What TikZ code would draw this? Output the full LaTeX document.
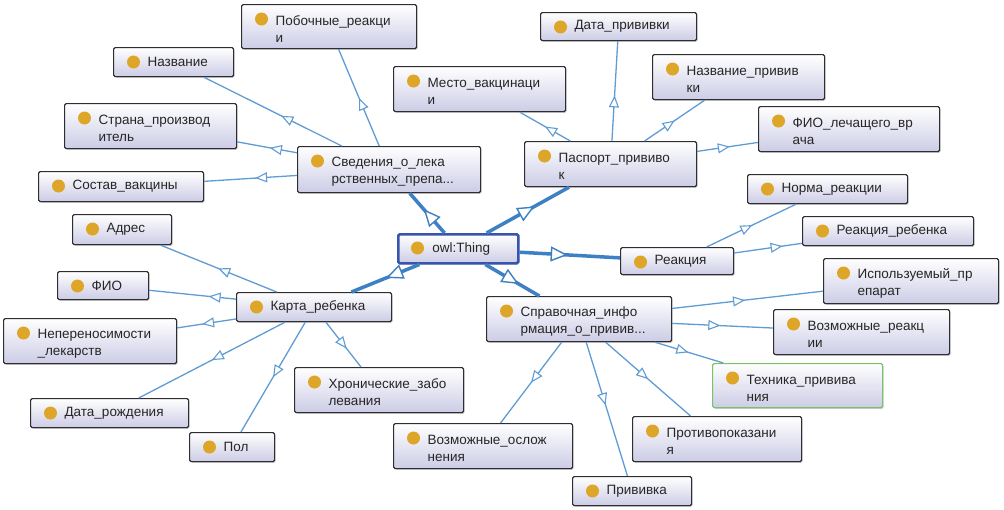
\documentclass[tikz,border=0pt]{standalone}
\usepackage{fontspec}
\setmainfont{Liberation Sans}
\usetikzlibrary{arrows.meta,decorations.markings,shadows}

\definecolor{edgec}{RGB}{96,156,212}
\definecolor{thickc}{RGB}{62,128,196}
\definecolor{dotc}{RGB}{222,166,40}
\definecolor{boxbot}{RGB}{204,204,230}
\definecolor{boxline}{RGB}{45,45,50}
\definecolor{owlc}{RGB}{55,85,170}
\definecolor{greenc}{RGB}{120,195,100}

\tikzset{
  box/.style={rectangle, draw=boxline, line width=1.2pt, rounded corners=1.5pt,
    top color=white, bottom color=boxbot, anchor=north west,
    inner xsep=0pt, inner ysep=0pt, align=left,
    font=\fontsize{13.5}{17}\selectfont, text=black!85,
    drop shadow={shadow xshift=1pt, shadow yshift=-1.2pt, fill=black!35, opacity=0.6}},
  thinedge/.style={draw=edgec, line width=1.3pt},
  thickedge/.style={draw=thickc, line width=3.5pt},
  thinmark/.style={postaction={decorate}, decoration={markings,
    mark=at position 0.5 with {\arrow[edgec, line width=1.1pt]{Triangle[length=12pt,width=10pt,fill=white]}}}},
  thickmark/.style={postaction={decorate}, decoration={markings,
    mark=at position 0.5 with {\arrow[thickc, line width=1.4pt]{Triangle[length=17pt,width=15pt,fill=white]}}}},
}

\newcommand\NL{\rule{0pt}{14pt}\\\hspace*{34pt}}
\newcommand\ontobox[7][]{%
  \node[box, #1, minimum width=#5pt, text width=#5pt, minimum height=#6pt] (#2) at (#3,#4) {\hspace*{34pt}#7};}
\newcommand\isathin[2]{\draw[thinedge] (#1) -- (#2); \path[thinmark] (#1.center) -- (#2.center);}
\newcommand\isathick[2]{\draw[thickedge] (#1) -- (#2); \path[thickmark] (#1.center) -- (#2.center);}

\begin{document}
\begin{tikzpicture}[x=1pt,y=-1pt]
\useasboundingbox[fill=white] (0,0) rectangle (1004,509);

\ontobox{pob}{241}{4}{175}{44}{Побочные\_реакци\NL и}
\ontobox{nazv}{113}{47}{120}{29}{Название}
\ontobox{mesto}{393}{66}{172}{45}{Место\_вакцинаци\NL и}
\ontobox{strana}{64}{103}{172}{45}{Страна\_производ\NL итель}
\ontobox{sved}{297}{146}{183}{46}{Сведения\_о\_лека\NL рственных\_препа...}
\ontobox{sostav}{38}{171}{165}{30}{Состав\_вакцины}
\ontobox{adres}{72}{214}{99}{30}{Адрес}
\ontobox[draw=owlc, line width=2.5pt]{owl}{397}{233}{120}{29}{owl:Thing}
\ontobox{datapriv}{540}{12}{156}{28}{Дата\_прививки}
\ontobox{nazvpriv}{652}{54}{172}{45}{Название\_привив\NL ки}
\ontobox{fiovr}{758}{106}{181}{45}{ФИО\_лечащего\_вр\NL ача}
\ontobox{pasp}{524}{141}{172}{45}{Паспорт\_прививо\NL к}
\ontobox{norma}{747}{174}{160}{29}{Норма\_реакции}
\ontobox{reakreb}{802}{216}{171}{29}{Реакция\_ребенка}
\ontobox{reak}{620}{247}{113}{27}{Реакция}
\ontobox{fio}{57}{271}{91}{28}{ФИО}
\ontobox{karta}{236}{292}{155}{29}{Карта\_ребенка}
\ontobox{neper}{3}{318}{173}{45}{Непереносимости\NL\_лекарств}
\ontobox{hron}{294}{367}{169}{45}{Хронические\_забо\NL левания}
\ontobox{datarozh}{30}{398}{158}{29}{Дата\_рождения}
\ontobox{pol}{189}{432}{85}{29}{Пол}
\ontobox{vozmosl}{393}{423}{179}{45}{Возможные\_ослож\NL нения}
\ontobox{ispol}{823}{258}{175}{45}{Используемый\_пр\NL епарат}
\ontobox{sprav}{486}{296}{185}{45}{Справочная\_инфо\NL рмация\_о\_привив...}
\ontobox{vozmreak}{773}{309}{176}{45}{Возможные\_реакц\NL ии}
\ontobox[draw=greenc]{tehn}{712}{363}{170}{44}{Техника\_привива\NL ния}
\ontobox{protiv}{632}{416}{169}{45}{Противопоказани\NL я}
\ontobox{priv}{572}{476}{119}{29}{Прививка}

\foreach \n in {pob,nazv,mesto,strana,sved,sostav,adres,owl,datapriv,nazvpriv,fiovr,pasp,norma,reakreb,reak,fio,karta,neper,hron,datarozh,pol,vozmosl,ispol,sprav,vozmreak,tehn,protiv,priv}
  \fill[dotc] ([xshift=20.5pt,yshift=-15pt]\n.north west) circle[radius=6.5pt];

\isathick{owl}{sved}
\isathick{owl}{pasp}
\isathick{owl}{karta}
\isathick{owl}{reak}
\isathick{owl}{sprav}

\isathin{sved}{pob}
\isathin{sved}{nazv}
\isathin{sved}{strana}
\isathin{sved}{sostav}

\isathin{pasp}{mesto}
\isathin{pasp}{datapriv}
\isathin{pasp}{nazvpriv}
\isathin{pasp}{fiovr}

\isathin{reak}{norma}
\isathin{reak}{reakreb}

\isathin{karta}{adres}
\isathin{karta}{fio}
\isathin{karta}{neper}
\isathin{karta}{datarozh}
\isathin{karta}{pol}
\isathin{karta}{hron}

\isathin{sprav}{ispol}
\isathin{sprav}{vozmreak}
\isathin{sprav}{tehn}
\isathin{sprav}{protiv}
\isathin{sprav}{priv}
\isathin{sprav}{vozmosl}
\end{tikzpicture}
\end{document}
